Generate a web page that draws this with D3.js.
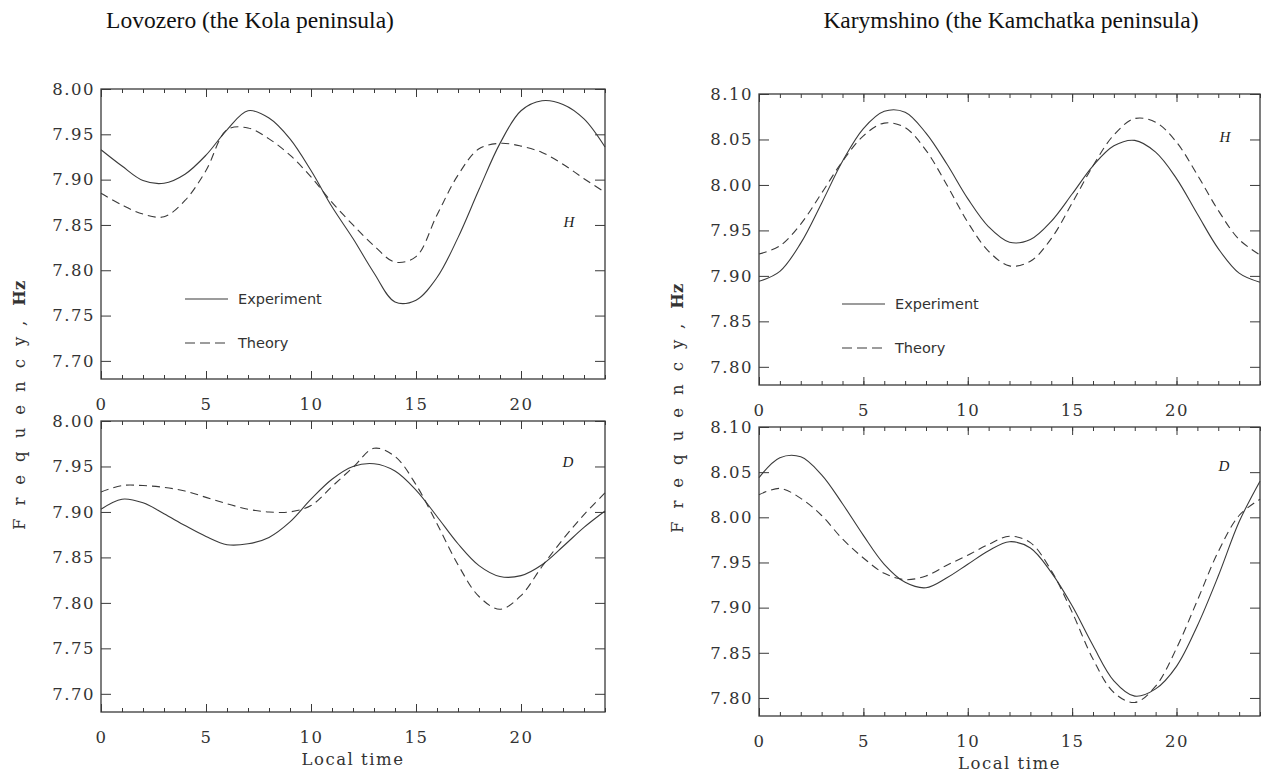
<!DOCTYPE html>
<html lang="en">
  <head>
   <meta http-equiv="Content-Type" content="text/html;charset=utf-8">
   <title>Schumann resonance frequency</title>
   <script type="text/javascript" src="https://cdn.jsdelivr.net/npm/d3@7"></script>
   <style>
     body { margin: 0; background: #fff; }
   </style>
  </head>

  <body>
<script>

// local time, hours
var hours = [0, 1, 2, 3, 4, 5, 6, 7, 8, 9, 10, 11, 12, 13, 14, 15, 16, 17, 18, 19, 20, 21, 22, 23, 24]

// Lovozero, H component
var lovH_exp = [7.933, 7.915, 7.899, 7.896, 7.906, 7.927, 7.955, 7.976, 7.968, 7.945, 7.910, 7.870, 7.835, 7.797, 7.765, 7.767, 7.792, 7.836, 7.889, 7.940, 7.976, 7.987, 7.983, 7.967, 7.936]
var lovH_th  = [7.885, 7.872, 7.862, 7.859, 7.877, 7.910, 7.955, 7.957, 7.945, 7.927, 7.903, 7.875, 7.850, 7.827, 7.809, 7.815, 7.861, 7.905, 7.934, 7.940, 7.937, 7.930, 7.917, 7.901, 7.886]
// Lovozero, D component
var lovD_exp = [7.903, 7.914, 7.910, 7.898, 7.885, 7.873, 7.864, 7.865, 7.872, 7.889, 7.914, 7.936, 7.950, 7.953, 7.945, 7.924, 7.895, 7.865, 7.841, 7.829, 7.830, 7.842, 7.862, 7.883, 7.901]
var lovD_th  = [7.922, 7.929, 7.929, 7.927, 7.923, 7.916, 7.909, 7.903, 7.900, 7.900, 7.907, 7.928, 7.949, 7.970, 7.961, 7.930, 7.887, 7.842, 7.807, 7.793, 7.808, 7.840, 7.870, 7.897, 7.921]
// Karymshino, H component
var karH_exp = [7.894, 7.905, 7.936, 7.980, 8.026, 8.062, 8.081, 8.080, 8.057, 8.023, 7.985, 7.954, 7.937, 7.940, 7.960, 7.990, 8.021, 8.043, 8.049, 8.036, 8.007, 7.968, 7.930, 7.903, 7.893]
var karH_th  = [7.924, 7.933, 7.957, 7.991, 8.026, 8.054, 8.068, 8.063, 8.038, 8.000, 7.959, 7.927, 7.911, 7.916, 7.941, 7.980, 8.021, 8.055, 8.073, 8.069, 8.047, 8.011, 7.972, 7.940, 7.923]
// Karymshino, D component
var karD_exp = [8.044, 8.066, 8.067, 8.047, 8.015, 7.980, 7.948, 7.928, 7.922, 7.933, 7.948, 7.963, 7.973, 7.966, 7.939, 7.902, 7.858, 7.819, 7.802, 7.810, 7.835, 7.880, 7.935, 7.995, 8.040]
var karD_th  = [8.025, 8.032, 8.021, 8.002, 7.976, 7.955, 7.938, 7.931, 7.935, 7.947, 7.958, 7.970, 7.979, 7.972, 7.941, 7.895, 7.843, 7.806, 7.795, 7.813, 7.855, 7.908, 7.962, 8.002, 8.020]

var xMajor = [0, 5, 10, 15, 20]
var xMinor = hours
var lovYTicks = [7.70, 7.75, 7.80, 7.85, 7.90, 7.95, 8.00]
var karYTicks = [7.80, 7.85, 7.90, 7.95, 8.00, 8.05, 8.10]

var titles = ["Lovozero (the Kola peninsula)", "Karymshino (the Kamchatka peninsula)"]
var legendNames = ["Experiment", "Theory"]

var W = 1271, H = 773
var ink = "#3a3a3a"
var tickFont = "'DejaVu Serif', serif"

var svg = d3.select("body").append("svg")
  .attr("width", W)
  .attr("height", H)

// one entry per plot box
var panels = [
  {x0: 101, x1: 605, y0: 89,  y1: 379, ydom: [7.68, 8.00], yt: lovYTicks, exp: lovH_exp, th: lovH_th, tag: "H", tagX: 569, tagY: 227, legend: true},
  {x0: 101, x1: 605, y0: 421, y1: 712, ydom: [7.68, 8.00], yt: lovYTicks, exp: lovD_exp, th: lovD_th, tag: "D", tagX: 568, tagY: 467, xlabel: true},
  {x0: 759, x1: 1260, y0: 94, y1: 385, ydom: [7.78, 8.10], yt: karYTicks, exp: karH_exp, th: karH_th, tag: "H", tagX: 1225, tagY: 142, legend: true},
  {x0: 759, x1: 1260, y0: 427, y1: 716, ydom: [7.78, 8.10], yt: karYTicks, exp: karD_exp, th: karD_th, tag: "D", tagX: 1224, tagY: 471, xlabel: true}
]

panels.forEach(function(p){
  var x = d3.scaleLinear().domain([0, 24]).range([p.x0, p.x1])
  var y = d3.scaleLinear().domain(p.ydom).range([p.y1, p.y0])
  var g = svg.append("g")

  // minor x ticks, top and bottom
  g.append("g").attr("transform", "translate(0," + p.y1 + ")")
    .call(d3.axisBottom(x).tickValues(xMinor).tickSize(-4).tickFormat(""))
  g.append("g").attr("transform", "translate(0," + p.y0 + ")")
    .call(d3.axisTop(x).tickValues(xMinor).tickSize(-4).tickFormat(""))
  // major x ticks with labels below
  g.append("g").attr("class", "xb").attr("transform", "translate(0," + p.y1 + ")")
    .call(d3.axisBottom(x).tickValues(xMajor).tickSize(-8).tickPadding(19).tickFormat(d3.format("d")))
  g.append("g").attr("transform", "translate(0," + p.y0 + ")")
    .call(d3.axisTop(x).tickValues(xMajor).tickSize(-8).tickFormat(""))
  // y ticks left and right
  g.append("g").attr("class", "yl").attr("transform", "translate(" + p.x0 + ",0)")
    .call(d3.axisLeft(y).tickValues(p.yt).tickSize(-10).tickPadding(6).tickFormat(d3.format(".2f")))
  g.append("g").attr("transform", "translate(" + p.x1 + ",0)")
    .call(d3.axisRight(y).tickValues(p.yt).tickSize(-10).tickFormat(""))

  g.selectAll(".domain").remove()
  g.selectAll(".tick line").attr("stroke", ink)
  g.selectAll(".tick text")
    .attr("fill", "#333")
    .style("font-family", tickFont)
    .style("font-size", "16.5px")
    .style("letter-spacing", "1.5px")

  // frame
  g.append("rect")
    .attr("x", p.x0).attr("y", p.y0)
    .attr("width", p.x1 - p.x0).attr("height", p.y1 - p.y0)
    .attr("fill", "none").attr("stroke", ink).attr("stroke-width", 1.3)

  var line = d3.line()
    .x(function(d, i){ return x(hours[i]) })
    .y(function(d){ return y(d) })
    .curve(d3.curveCatmullRom.alpha(0.5))

  g.append("path").datum(p.exp)
    .attr("d", line).attr("fill", "none")
    .attr("stroke", ink).attr("stroke-width", 1.1)
  g.append("path").datum(p.th)
    .attr("d", line).attr("fill", "none")
    .attr("stroke", ink).attr("stroke-width", 1.1)
    .attr("stroke-dasharray", "8,5")

  g.append("text")
    .attr("x", p.tagX).attr("y", p.tagY)
    .attr("text-anchor", "middle")
    .style("font-family", "'Liberation Serif', serif")
    .style("font-style", "italic")
    .style("font-size", "15px")
    .attr("fill", "#222")
    .text(p.tag)

  if (p.legend){
    var lx = p.x0 + (p.x0 < 500 ? 84 : 83)
    var rows = [{name: legendNames[0], dash: null, yy: p.y0 + 210}, {name: legendNames[1], dash: "10,5", yy: p.y0 + 254}]
    rows.forEach(function(r){
      g.append("line")
        .attr("x1", lx).attr("x2", lx + 43)
        .attr("y1", r.yy).attr("y2", r.yy)
        .attr("stroke", ink).attr("stroke-width", 1.1)
        .attr("stroke-dasharray", r.dash)
      g.append("text")
        .attr("x", lx + 53).attr("y", r.yy + 5)
        .style("font-family", "'DejaVu Sans', sans-serif")
        .style("font-size", "14.5px")
        .attr("fill", "#333")
        .text(r.name)
    })
  }

  if (p.xlabel){
    g.append("text")
      .attr("x", (p.x0 + p.x1) / 2).attr("y", p.y1 + 53)
      .attr("text-anchor", "middle")
      .style("font-family", tickFont)
      .style("font-size", "16.5px")
      .style("letter-spacing", "1.5px")
      .attr("fill", "#333")
      .text("Local time")
  }
})

// column titles
svg.selectAll(".title").data(titles).enter().append("text")
  .attr("class", "title")
  .attr("x", function(d, i){ return i == 0 ? 250 : 1011 })
  .attr("y", 28)
  .attr("text-anchor", "middle")
  .style("font-family", "'Liberation Serif', serif")
  .style("font-size", "23.5px")
  .attr("fill", "#111")
  .text(function(d){ return d })

// y axis titles, written upward from the bottom end
;[{cx: 19, by: 530}, {cx: 677, by: 533}].forEach(function(a){
  var t = svg.append("text")
    .attr("transform", "translate(" + a.cx + "," + a.by + ") rotate(-90)")
    .attr("text-anchor", "start")
    .attr("dy", "0.35em")
    .style("font-family", tickFont)
    .style("font-size", "16.5px")
    .attr("fill", "#333")
  t.append("tspan").style("letter-spacing", "13px").text("Frequency,")
  t.append("tspan").attr("dx", 2).style("font-weight", "bold").text("Hz")
})

</script>

</body>
</html>
